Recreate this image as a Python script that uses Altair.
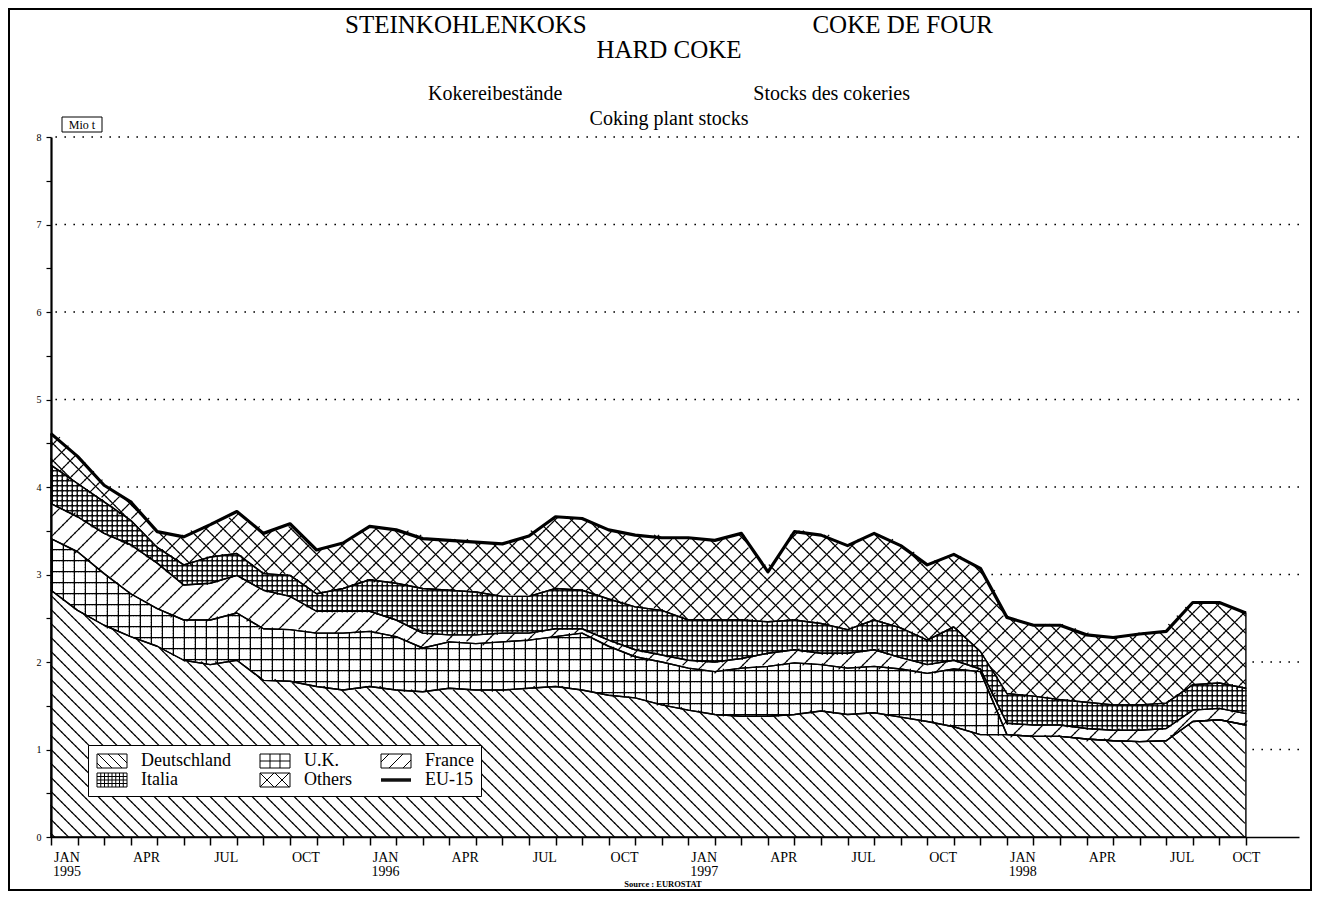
import altair as alt
import pandas as pd

# ------------------------------------------------------------------ data
MONTH_INDEX = list(range(46))            # Jan 1995 ... Oct 1998
SERIES = ["Deutschland", "U.K.", "France", "Italia", "Others"]
TOTAL_NAME = "EU-15"

DEUTSCHLAND = [2.82, 2.59, 2.42, 2.29, 2.18, 2.02, 1.97, 2.02, 1.79, 1.78, 1.72, 1.68,
               1.72, 1.68, 1.66, 1.70, 1.68, 1.68, 1.70, 1.72, 1.68, 1.62, 1.59, 1.51,
               1.45, 1.40, 1.38, 1.38, 1.40, 1.44, 1.40, 1.42, 1.37, 1.32, 1.26, 1.17,
               1.17, 1.15, 1.15, 1.12, 1.10, 1.09, 1.10, 1.32, 1.34, 1.28]
UK = [0.59, 0.67, 0.59, 0.49, 0.43, 0.46, 0.51, 0.54, 0.59, 0.59, 0.61, 0.65,
      0.63, 0.61, 0.50, 0.53, 0.53, 0.55, 0.55, 0.57, 0.65, 0.56, 0.47, 0.49,
      0.48, 0.49, 0.55, 0.57, 0.59, 0.53, 0.53, 0.53, 0.55, 0.55, 0.66, 0.72,
      0.0, 0.0, 0.0, 0.0, 0.0, 0.0, 0.0, 0.0, 0.0, 0.0]
FRANCE = [0.40, 0.40, 0.46, 0.56, 0.52, 0.40, 0.42, 0.43, 0.44, 0.38, 0.25, 0.25,
          0.23, 0.19, 0.17, 0.08, 0.10, 0.10, 0.08, 0.09, 0.05, 0.07, 0.08, 0.08,
          0.09, 0.11, 0.11, 0.15, 0.15, 0.13, 0.17, 0.19, 0.13, 0.10, 0.10, 0.03,
          0.13, 0.13, 0.13, 0.12, 0.12, 0.13, 0.14, 0.13, 0.13, 0.13]
ITALIA = [0.44, 0.38, 0.36, 0.28, 0.18, 0.23, 0.30, 0.25, 0.19, 0.24, 0.20, 0.26,
          0.36, 0.42, 0.51, 0.51, 0.49, 0.42, 0.42, 0.46, 0.44, 0.47, 0.49, 0.51,
          0.46, 0.48, 0.44, 0.36, 0.34, 0.34, 0.27, 0.34, 0.34, 0.28, 0.38, 0.20,
          0.34, 0.33, 0.29, 0.30, 0.29, 0.29, 0.29, 0.29, 0.29, 0.29]
OTHERS = [0.36, 0.31, 0.19, 0.21, 0.18, 0.32, 0.37, 0.48, 0.46, 0.59, 0.50, 0.52,
          0.61, 0.61, 0.57, 0.57, 0.57, 0.60, 0.69, 0.82, 0.82, 0.79, 0.82, 0.83,
          0.94, 0.91, 0.99, 0.57, 1.01, 1.01, 0.96, 0.99, 0.94, 0.86, 0.83, 0.95,
          0.87, 0.81, 0.85, 0.77, 0.77, 0.81, 0.82, 0.94, 0.92, 0.86]
VALUES = [DEUTSCHLAND, UK, FRANCE, ITALIA, OTHERS]

QUARTERS = ["JAN", "APR", "JUL", "OCT"]
YEARS = ["1995", "1996", "1997", "1998"]
Y_TICKS = [0, 0.5, 1, 1.5, 2, 2.5, 3, 3.5, 4, 4.5, 5, 5.5, 6, 6.5, 7, 7.5, 8]
GRID_LINES = [1, 2, 3, 4, 5, 6, 7, 8]

TITLE_1 = ["STEINKOHLENKOKS", "COKE DE FOUR"]
TITLE_2 = "HARD COKE"
SUB_1 = ["Kokereibestände", "Stocks des cokeries"]
SUB_2 = "Coking plant stocks"
UNIT = "Mio t"
SOURCE = "Source : EUROSTAT"

for v in VALUES:
    assert len(v) == len(MONTH_INDEX)

# ------------------------------------------------------------------ layout
FONT = "Liberation Serif"
PW, PH = 1248, 700
XMAX, YMAX = 47, 8
PXM = PW / XMAX          # px per month
PXU = PH / YMAX          # px per Mio t
LAST = MONTH_INDEX[-1]

rows = []
for k, (name, vals) in enumerate(zip(SERIES, VALUES)):
    for m, v in zip(MONTH_INDEX, vals):
        rows.append({"month": m, "series": name, "value": v, "ord": k})
df = pd.DataFrame(rows)

XS = alt.Scale(domain=[0, XMAX], nice=False, zero=False)
YS = alt.Scale(domain=[0, YMAX], nice=False)

stacked = alt.Chart(df).transform_stack(
    stack="value", groupby=["month"], as_=["y0", "y1"],
    sort=[alt.SortField("ord", order="ascending")],
)
# each month row also knows the next month's band limits (for hatch clipping)
stacked_next = stacked.transform_window(
    y0n="lead(y0)", y1n="lead(y1)", groupby=["series"],
    sort=[alt.SortField("month", order="ascending")],
).transform_filter(f"datum.month < {LAST}")

X_PLAIN = alt.X("month:Q", scale=XS, axis=None)
Y_PLAIN = alt.Y("y1:Q", scale=YS, axis=None)

# ------------------------------------------------------------------ hatch patterns
SHAPES = {
    "bs": "M-1,-1L1,1",
    "fs": "M-1,1L1,-1",
    "v": "M0,-1L0,1",
    "h": "M-1,0L1,0",
}
# (direction, line spacing px, tile px)
PATTERNS = {
    "Deutschland": [("bs", 14, 3.5)],
    "U.K.": [("v", 11, 2.75), ("h", 11, 2.75)],
    "France": [("fs", 20, 4.0)],
    "Italia": [("v", 5, 2.5), ("h", 5, 2.5)],
    "Others": [("bs", 17, 4.25), ("fs", 17, 4.25)],
}


def hatch_layer(name, kind, spacing, t):
    k = int(round(spacing / t))
    c = stacked_next.transform_filter(alt.datum.series == name).transform_calculate(
        cols=f"sequence(ceil(datum.month*{PXM}/{t} - 0.5), ceil((datum.month + 1)*{PXM}/{t} - 0.5))"
    ).transform_flatten(["cols"], as_=["c"])
    if kind == "v":
        c = c.transform_filter(f"datum.c % {k} == 0")
    c = c.transform_calculate(
        xm=f"(datum.c + 0.5)*{t}/{PXM}"
    ).transform_calculate(
        fr="datum.xm - datum.month"
    ).transform_calculate(
        lo="datum.y0 + (datum.y0n - datum.y0)*datum.fr"
    ).transform_calculate(
        hi="datum.y1 + (datum.y1n - datum.y1)*datum.fr"
    ).transform_calculate(
        rws=f"sequence(ceil(datum.lo*{PXU}/{t} - 0.5), ceil(datum.hi*{PXU}/{t} - 0.5))"
    ).transform_flatten(["rws"], as_=["r"])
    cond = {
        "h": f"datum.r % {k} == 0",
        "bs": f"((datum.c + datum.r) % {k} + {k}) % {k} == 0",
        "fs": f"((datum.c - datum.r) % {k} + {k}) % {k} == 0",
    }
    if kind != "v":
        c = c.transform_filter(cond[kind])
    c = c.transform_calculate(ym=f"(datum.r + 0.5)*{t}/{PXU}")
    return c.mark_point(
        shape=SHAPES[kind], size=t * t, filled=False, color="black",
        strokeWidth=1.2, opacity=1, strokeCap="square"
    ).encode(
        x=alt.X("xm:Q", scale=XS, axis=None),
        y=alt.Y("ym:Q", scale=YS, axis=None),
    )


# ------------------------------------------------------------------ layers
grid = alt.Chart(pd.DataFrame({"g": GRID_LINES})).mark_rule(
    color="black", strokeWidth=1.6, strokeDash=[1.6, 7.4]
).encode(y=alt.Y("g:Q", scale=YS, axis=None))

base = stacked.mark_area(fill="white", opacity=1).encode(
    x=alt.X("month:Q", scale=XS, axis=alt.Axis(
        orient="bottom", values=MONTH_INDEX, labels=False, ticks=True,
        tickSize=8, tickWidth=1.5, tickColor="black", domain=True,
        domainColor="black", domainWidth=1.6, grid=False, title=None, zindex=2)),
    y=alt.Y("y1:Q", scale=YS, axis=alt.Axis(
        orient="left", values=Y_TICKS,
        labelExpr="datum.value % 1 === 0 ? format(datum.value, 'd') : ''",
        tickSize=5, tickWidth=1.2, tickColor="black", domainColor="black",
        domainWidth=2.2, grid=False, title=None, labelFont=FONT, labelFontSize=10,
        labelColor="black", labelPadding=5, labelFlush=False, labelOverlap=False,
        zindex=2)),
    y2="y0:Q",
    detail="series:N",
)

layers = [grid, base]
for name in SERIES:
    for kind, sp, t in PATTERNS[name]:
        layers.append(hatch_layer(name, kind, sp, t))

outline = stacked.mark_area(fillOpacity=0, stroke="black", strokeWidth=1.4,
                            strokeJoin="round").encode(
    x=X_PLAIN, y=Y_PLAIN, y2="y0:Q", detail="series:N")
layers.append(outline)

# x labels sit between the monthly ticks -> separate label-only axis
label_pos, label_txt = [], []
for i in range(0, len(MONTH_INDEX), 3):
    q = QUARTERS[(i // 3) % 4]
    txt = [q, YEARS[i // 12]] if i % 12 == 0 else q
    label_pos.append(i + 0.58 if i < LAST else i)
    label_txt.append(txt)


def js(v):
    if isinstance(v, list):
        return "[" + ",".join("'" + s + "'" for s in v) + "]"
    return "'" + v + "'"


expr = "''"
for p, t in reversed(list(zip(label_pos, label_txt))):
    expr = f"datum.value == {p} ? {js(t)} : ({expr})"

total_line = alt.Chart(df).transform_aggregate(
    total="sum(value)", groupby=["month"]
).mark_line(color="black", strokeWidth=3.2, strokeJoin="round").encode(
    x=alt.X("month:Q", scale=XS, axis=alt.Axis(
        orient="bottom", values=label_pos, labelExpr=expr, ticks=False, domain=False,
        grid=False, title=None, labelFont=FONT, labelFontSize=14, labelColor="black",
        labelPadding=13, labelAlign="center", labelLineHeight=14, labelFlush=False,
        labelOverlap=False, labelBound=False, zindex=2)),
    y=alt.Y("total:Q", scale=YS, axis=None),
)
layers.append(total_line)

# ------------------------------------------------------------------ legend (hatch swatches)
SR = 7.0  # half swatch height in px


def P(px, py):
    return f"{px / SR - 1:.3f},{py / SR:.3f}"


def rect_path():
    return f"M{P(0, -7)}L{P(30, -7)}L{P(30, 7)}L{P(0, 7)}Z"


def diag(kind, spacing, start):
    segs = []
    c = start
    while c < 30 + 14:
        tlo, thi = max(0, 0 - c), min(14, 30 - c)
        if thi > tlo:
            if kind == "bs":
                segs.append(f"M{P(c + tlo, -7 + tlo)}L{P(c + thi, -7 + thi)}")
            else:
                segs.append(f"M{P(c + tlo, 7 - tlo)}L{P(c + thi, 7 - thi)}")
        c += spacing
    return "".join(segs)


def vlines(xs):
    return "".join(f"M{P(x, -7)}L{P(x, 7)}" for x in xs)


def hlines(ys):
    return "".join(f"M{P(0, y)}L{P(30, y)}" for y in ys)


SWATCH = {
    "Deutschland": rect_path() + diag("bs", 10, -9),
    "U.K.": rect_path() + vlines([10, 20]) + hlines([0]),
    "France": rect_path() + diag("fs", 14, -6),
    "Italia": rect_path() + vlines([3.75 * i for i in range(1, 8)]) + hlines([-3.5, 0, 3.5]),
    "Others": rect_path() + diag("bs", 15, 0) + diag("fs", 15, 0),
    TOTAL_NAME: hlines([-1.2, -0.4, 0.4, 1.2]),
}
LEGEND_NAMES = SERIES + [TOTAL_NAME]

legend_layer = alt.Chart(pd.DataFrame({"name": LEGEND_NAMES})).mark_point(
    opacity=0, filled=False, color="black"
).encode(
    x=alt.value(0), y=alt.value(0),
    shape=alt.Shape("name:N", scale=alt.Scale(domain=LEGEND_NAMES,
                                              range=[SWATCH[n] for n in LEGEND_NAMES]),
                    legend=alt.Legend(
                        title=None, orient="none", legendX=37, legendY=608, columns=3,
                        direction="horizontal", strokeColor="black", fillColor="white",
                        padding=7, labelFont=FONT, labelFontSize=18, labelColor="black",
                        labelOffset=28, symbolSize=(2 * SR) ** 2, symbolStrokeColor="black",
                        symbolStrokeWidth=1, symbolFillColor="transparent",
                        symbolOpacity=1, columnPadding=27, rowPadding=1,
                        labelLimit=300)),
)
layers.append(legend_layer)

# ------------------------------------------------------------------ annotations
ONE = pd.DataFrame({"k": [0]})


def text(s, x, y, size, align="left", baseline="alphabetic", weight="normal"):
    return alt.Chart(ONE).mark_text(
        text=s, font=FONT, fontSize=size, align=align, baseline=baseline,
        fontWeight=weight, color="black"
    ).encode(x=alt.value(x), y=alt.value(y))


layers += [
    text(TITLE_1[0], 294, -104, 25),
    text(TITLE_1[1], 942, -104, 25, align="right"),
    text(TITLE_2, 618, -79, 25, align="center"),
    text(SUB_1[0], 377, -37, 20),
    text(SUB_1[1], 859, -37, 20, align="right"),
    text(SUB_2, 618, -12, 20, align="center"),
    text(UNIT, 31, -12, 12, align="center", baseline="middle"),
    text(SOURCE, 612, 750, 8.5, align="center", weight="bold"),
    alt.Chart(ONE).mark_rect(fillOpacity=0, stroke="black", strokeWidth=1).encode(
        x=alt.value(11), x2=alt.value(51), y=alt.value(-20), y2=alt.value(-5)),
    alt.Chart(ONE).mark_rect(fillOpacity=0, stroke="black", strokeWidth=2).encode(
        x=alt.value(-42), x2=alt.value(1260), y=alt.value(-128), y2=alt.value(753)),
]

chart = alt.layer(*layers).resolve_axis(x="independent", y="independent").properties(
    width=PW, height=PH,
    padding={"left": 43, "top": 129, "right": 13, "bottom": 55},
    autosize=alt.AutoSizeParams(type="none"),
    background="white",
).configure_view(strokeWidth=0)

chart.save("out.html", embed_options={"renderer": "svg", "actions": False})
